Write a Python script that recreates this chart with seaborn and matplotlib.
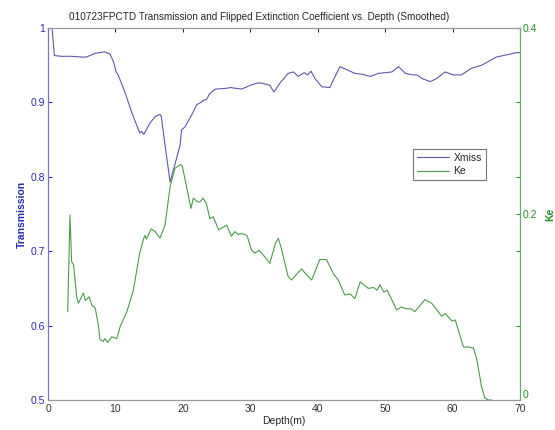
import numpy as np
import pandas as pd
import matplotlib
matplotlib.use("Agg")
import matplotlib.pyplot as plt
import seaborn as sns

# Xmiss (transmission) vs depth
xmiss_depth = [0.6, 0.95, 2.0, 3.5, 5.0, 5.7, 7.0, 8.4, 9.2, 9.7, 10.1, 10.4, 11.4, 12.4,
               13.6, 13.9, 14.2, 15.1, 15.9, 16.6, 16.8, 17.35, 18.1, 18.8, 19.6, 19.8,
               20.3, 21.3, 22.05, 22.5, 23.1, 23.5, 24.0, 24.8, 25.0, 26.5, 27.0, 28.7,
               29.0, 30.0, 31.0, 31.7, 32.9, 33.5, 34.4, 35.6, 36.4, 37.1, 38.0, 38.5,
               39.0, 39.6, 40.6, 41.8, 42.3, 43.3, 44.3, 45.5, 46.5, 47.8, 49.0, 51.0,
               52.0, 53.0, 54.0, 54.7, 55.5, 56.7, 57.6, 58.9, 60.1, 61.3, 62.8, 64.3,
               65.3, 66.5, 68.0, 69.5, 70.0]
xmiss = [1.0, 0.963, 0.962, 0.962, 0.961, 0.961, 0.966, 0.968, 0.965, 0.955, 0.941, 0.937,
         0.914, 0.887, 0.859, 0.861, 0.857, 0.872, 0.881, 0.884, 0.881, 0.843, 0.793, 0.816,
         0.843, 0.863, 0.867, 0.883, 0.897, 0.899, 0.903, 0.904, 0.912, 0.918, 0.918, 0.919,
         0.920, 0.918, 0.919, 0.923, 0.926, 0.926, 0.923, 0.914, 0.926, 0.939, 0.941, 0.935,
         0.940, 0.937, 0.942, 0.932, 0.921, 0.920, 0.930, 0.948, 0.944, 0.939, 0.938, 0.935,
         0.939, 0.941, 0.948, 0.939, 0.937, 0.937, 0.932, 0.928, 0.932, 0.941, 0.937, 0.937,
         0.946, 0.950, 0.955, 0.961, 0.964, 0.967, 0.967]

# Ke (extinction coefficient) vs depth
ke_depth = [2.92, 3.26, 3.5, 3.8, 4.25, 4.5, 5.25, 5.55, 6.1, 6.5, 7.0, 7.5, 7.7, 8.2, 8.4,
            8.85, 9.45, 10.2, 10.7, 11.7, 12.65, 13.6, 14.2, 14.4, 14.6, 15.3, 15.9, 16.6,
            17.35, 18.1, 18.8, 19.6, 19.9, 20.3, 21.2, 21.55, 22.2, 22.5, 23.0, 23.5, 24.0,
            24.5, 25.3, 26.5, 27.2, 27.7, 28.2, 28.7, 29.5, 30.2, 30.7, 31.3, 31.9, 32.9,
            33.7, 34.15, 34.6, 35.6, 36.1, 37.6, 38.3, 39.1, 40.3, 41.3, 42.3, 43.05, 44.0,
            44.8, 45.5, 46.3, 47.5, 48.3, 48.8, 49.2, 49.8, 50.3, 51.7, 52.4, 53.2, 53.9,
            54.4, 55.2, 55.9, 56.9, 58.4, 58.9, 59.9, 60.4, 61.6, 62.3, 63.1, 63.6, 64.3,
            64.8, 65.3, 65.8]
ke = [0.095, 0.199, 0.149, 0.145, 0.111, 0.104, 0.115, 0.107, 0.111, 0.102, 0.099, 0.079,
      0.065, 0.063, 0.066, 0.062, 0.068, 0.066, 0.079, 0.095, 0.118, 0.158, 0.174, 0.177,
      0.173, 0.184, 0.181, 0.174, 0.188, 0.229, 0.249, 0.253, 0.252, 0.238, 0.206, 0.217,
      0.213, 0.213, 0.217, 0.211, 0.195, 0.197, 0.183, 0.188, 0.176, 0.181, 0.178, 0.179,
      0.177, 0.161, 0.158, 0.161, 0.156, 0.147, 0.168, 0.174, 0.163, 0.133, 0.129, 0.141,
      0.135, 0.129, 0.151, 0.151, 0.136, 0.129, 0.113, 0.114, 0.109, 0.127, 0.120, 0.121,
      0.118, 0.124, 0.116, 0.118, 0.097, 0.100, 0.098, 0.098, 0.095, 0.102, 0.108, 0.104,
      0.090, 0.093, 0.085, 0.086, 0.057, 0.057, 0.056, 0.043, 0.014, 0.002, 0.0, 0.0]

x_ticks = [0, 10, 20, 30, 40, 50, 60, 70]
left_ticks = [0.5, 0.6, 0.7, 0.8, 0.9, 1.0]
left_labels = ["0.5", "0.6", "0.7", "0.8", "0.9", "1"]
right_ticks = [0, 0.08, 0.16, 0.2, 0.24, 0.32, 0.4]
right_labels = ["0", "", "", "0.2", "", "", "0.4"]

sns.set_style("white")
plt.rcParams['font.family'] = ['Liberation Sans', 'DejaVu Sans']

blue = "#5a5aa8"
green = "#4e9a4e"
blue_txt = "#2a2ab0"
green_txt = "#2a8a2a"

fig = plt.figure(figsize=(5.55, 4.3), dpi=100)
ax = fig.add_axes([0.0865, 0.0698, 0.8505, 0.865])
ax2 = ax.twinx()

df1 = pd.DataFrame({"depth": xmiss_depth, "val": xmiss})
df2 = pd.DataFrame({"depth": ke_depth, "val": ke})
sns.lineplot(data=df1, x="depth", y="val", ax=ax, color=blue, linewidth=0.8, label="Xmiss", legend=False)
sns.lineplot(data=df2, x="depth", y="val", ax=ax2, color=green, linewidth=0.8, label="Ke", legend=False)

ax.set_xlim(0, 70)
ax.set_ylim(0.5, 1.0)
ax2.set_ylim(0, 0.4)
ax.set_xticks(x_ticks)
ax.set_yticks(left_ticks)
ax.set_yticklabels(left_labels)
ax2.set_yticks(right_ticks)
ax2.set_yticklabels(right_labels)

ax.tick_params(axis="x", direction="in", top=True, length=3, labelsize=7.5, colors="#333333", pad=3)
ax.tick_params(axis="y", direction="in", length=3, labelsize=7.5, colors=blue_txt, pad=2)
ax2.tick_params(axis="y", direction="in", length=3, labelsize=7.5, colors=green_txt, pad=2)
ax2.get_yticklabels()[0].set_va("bottom")

for a in (ax, ax2):
    for s in a.spines.values():
        s.set_linewidth(0.8)
        s.set_color("#999999")
ax2.spines["left"].set_color("#7777bb")
ax2.spines["right"].set_color("#66aa66")
ax.spines["left"].set_color("#7777bb")

ax.set_xlabel("Depth(m)", fontsize=7.5, labelpad=1)
ax.set_ylabel("Transmission", fontsize=7.5, fontweight="bold", color=blue_txt, labelpad=3)
ax2.set_ylabel("Ke", fontsize=7.5, fontweight="bold", color=green_txt, labelpad=6)
ax.set_title("010723FPCTD Transmission and Flipped Extinction Coefficient vs. Depth (Smoothed)",
             fontsize=7.2, pad=6, x=0.447)

h1, l1 = ax.get_legend_handles_labels()
h2, l2 = ax2.get_legend_handles_labels()
leg = ax2.legend(h1 + h2, l1 + l2, loc="upper left", bbox_to_anchor=(0.773, 0.675),
                 fontsize=7.5, frameon=True, fancybox=False, borderaxespad=0,
                 handlelength=3.1, handletextpad=0.4, borderpad=0.4, labelspacing=0.3)
leg.get_frame().set_edgecolor("#555555")
leg.get_frame().set_linewidth(0.8)

fig.savefig("out.png", dpi=100)
